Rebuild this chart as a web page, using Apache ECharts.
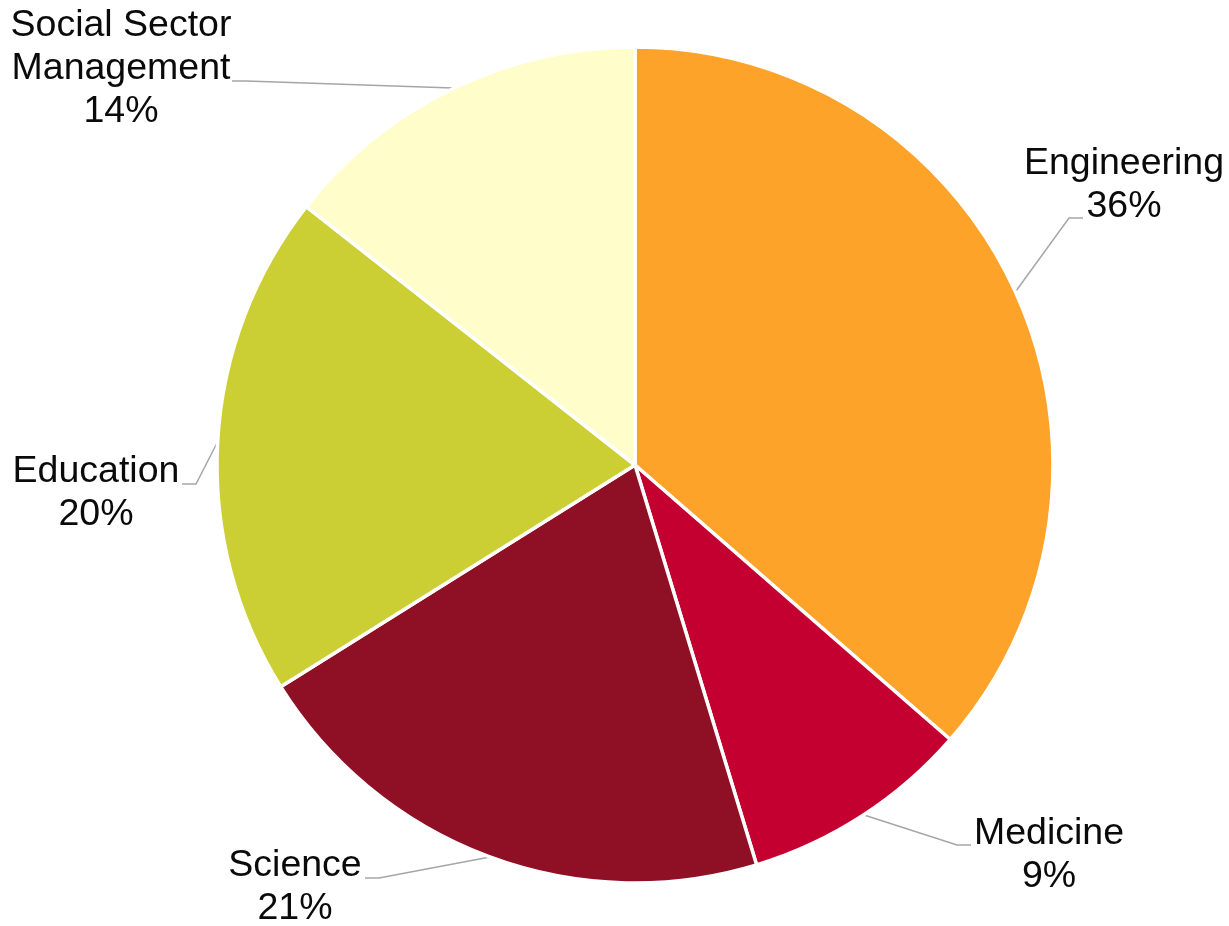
<!DOCTYPE html>
<html>
<head>
<meta charset="utf-8">
<style>
  html, body { margin: 0; padding: 0; background: #fff; }
  #chart { width: 1229px; height: 926px; }
</style>
<script src="https://cdn.jsdelivr.net/npm/echarts@6/dist/echarts.min.js"></script>
</head>
<body>
<div id="chart"></div>
<script>
// values (slice angles), labels show them rounded
const categories = ['Engineering', 'Medicine', 'Science', 'Education', 'Social Sector\nManagement'];
const shares = [36.4, 8.9, 20.8, 19.5, 14.4];
const colors = ['#FDA329', '#C3002F', '#8F1025', '#CCCF33', '#FFFDCA'];

const myChart = echarts.init(document.getElementById('chart'));

// label centres in page pixels, leader lines go from slice edge to label
const labelPos = [
  { x: 1124, y: 185, line: [[1016, 291], [1069, 218], [1083, 218]] },
  { x: 1049, y: 855, line: [[864, 815], [957, 845], [971, 845]] },
  { x: 295, y: 887, line: [[490, 857], [379, 878], [365, 878]] },
  { x: 96, y: 493, line: [[217, 443], [196, 484], [182, 484]] },
  { x: 121, y: 69, line: [[453, 88], [246, 81], [232, 81]] }
];

myChart.setOption({
  animation: false,
  series: [
    {
      type: 'pie',
      center: [635, 465],
      radius: ['0%', 418],
      startAngle: 90,
      clockwise: true,
      data: categories.map((name, i) => ({
        name: name,
        value: shares[i],
        itemStyle: { color: colors[i] }
      })),
      itemStyle: { borderColor: '#fff', borderWidth: 3.5 },
      label: {
        show: true,
        formatter: params => params.name + '\n' + Math.round(params.value) + '%',
        fontFamily: '"Liberation Sans", Arial, sans-serif',
        fontSize: 37.5,
        lineHeight: 43,
        color: '#0a0a0a',
        align: 'center',
        width: 400,
        overflow: 'none'
      },
      labelLine: {
        show: true,
        lineStyle: { color: '#a6a6a6', width: 1.5 }
      },
      labelLayout: function (params) {
        const p = labelPos[params.dataIndex];
        return {
          x: p.x,
          y: p.y,
          align: 'center',
          verticalAlign: 'middle',
          labelLinePoints: p.line
        };
      }
    }
  ]
});
</script>
</body>
</html>
